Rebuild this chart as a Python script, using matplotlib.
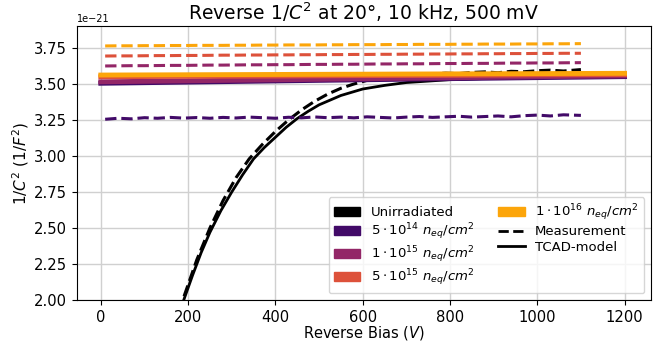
import numpy as np
import matplotlib.pyplot as plt
from matplotlib.patches import Patch
from matplotlib.lines import Line2D

# measured voltages (V)
v_meas = [10, 40, 70, 100, 130, 160, 190, 220, 250, 280, 310, 340, 370, 400,
          430, 460, 490, 520, 550, 580, 610, 640, 670, 700, 730, 760, 790,
          820, 850, 880, 910, 940, 970, 1000, 1030, 1060, 1100]

# 1/C^2 values in units of 1e-21 F^-2
meas_unirr = [0.20, 0.55, 0.90, 1.20, 1.50, 1.77, 2.02, 2.28, 2.50, 2.69,
              2.85, 2.98, 3.08, 3.17, 3.25, 3.32, 3.38, 3.43, 3.47, 3.50,
              3.525, 3.54, 3.552, 3.56, 3.566, 3.57, 3.575, 3.572, 3.58,
              3.584, 3.578, 3.588, 3.585, 3.592, 3.596, 3.59, 3.60]
meas_5e14 = [3.255, 3.262, 3.258, 3.266, 3.262, 3.268, 3.263, 3.267, 3.262,
             3.268, 3.264, 3.270, 3.266, 3.262, 3.269, 3.265, 3.271, 3.266,
             3.270, 3.265, 3.272, 3.268, 3.264, 3.270, 3.274, 3.268, 3.272,
             3.276, 3.270, 3.274, 3.278, 3.272, 3.280, 3.284, 3.278, 3.286,
             3.282]
meas_1e15 = [3.625, 3.626, 3.627, 3.627, 3.628, 3.629, 3.629, 3.630, 3.631,
             3.631, 3.632, 3.633, 3.633, 3.634, 3.634, 3.635, 3.636, 3.636,
             3.637, 3.637, 3.638, 3.639, 3.639, 3.640, 3.640, 3.641, 3.642,
             3.642, 3.643, 3.643, 3.644, 3.645, 3.645, 3.646, 3.646, 3.647,
             3.648]
meas_5e15 = [3.694, 3.695, 3.695, 3.696, 3.697, 3.697, 3.698, 3.698, 3.699,
             3.700, 3.700, 3.701, 3.701, 3.702, 3.702, 3.703, 3.703, 3.704,
             3.704, 3.705, 3.705, 3.706, 3.706, 3.707, 3.707, 3.708, 3.708,
             3.709, 3.709, 3.710, 3.710, 3.711, 3.711, 3.712, 3.712, 3.713,
             3.713]
meas_1e16 = [3.764, 3.765, 3.765, 3.766, 3.766, 3.767, 3.767, 3.768, 3.768,
             3.768, 3.769, 3.769, 3.770, 3.770, 3.771, 3.771, 3.771, 3.772,
             3.772, 3.773, 3.773, 3.773, 3.774, 3.774, 3.775, 3.775, 3.775,
             3.776, 3.776, 3.777, 3.777, 3.777, 3.778, 3.778, 3.779, 3.779,
             3.780]

# TCAD simulation
v_tcad_unirr = [150, 170, 190, 210, 230, 250, 275, 300, 325, 350, 375, 400,
                425, 450, 475, 500, 550, 600, 650, 700, 800, 900, 1000, 1100,
                1200]
tcad_unirr = [1.66, 1.84, 2.00, 2.17, 2.33, 2.47, 2.62, 2.75, 2.87, 2.98,
              3.06, 3.13, 3.20, 3.26, 3.31, 3.355, 3.42, 3.465, 3.49, 3.51,
              3.53, 3.54, 3.545, 3.55, 3.555]
v_tcad = [0, 200, 400, 600, 800, 1000, 1200]
tcad_5e14 = [3.505, 3.513, 3.521, 3.529, 3.537, 3.544, 3.551]
tcad_1e15 = [3.515, 3.522, 3.529, 3.536, 3.543, 3.550, 3.556]
tcad_5e15 = [3.550, 3.553, 3.555, 3.558, 3.560, 3.563, 3.565]
tcad_1e16 = [3.562, 3.564, 3.566, 3.568, 3.570, 3.572, 3.574]

labels = ["Unirradiated",
          r"$5\cdot10^{14}\ n_{eq}/cm^2$",
          r"$1\cdot10^{15}\ n_{eq}/cm^2$",
          r"$5\cdot10^{15}\ n_{eq}/cm^2$",
          r"$1\cdot10^{16}\ n_{eq}/cm^2$"]

colors = ["black"] + list(plt.cm.inferno(np.linspace(0.2, 0.8, 4)))

meas = [meas_unirr, meas_5e14, meas_1e15, meas_5e15, meas_1e16]
tcad_x = [v_tcad_unirr, v_tcad, v_tcad, v_tcad, v_tcad]
tcad = [tcad_unirr, tcad_5e14, tcad_1e15, tcad_5e15, tcad_1e16]

fig = plt.figure(figsize=(6.62, 3.41), dpi=100)
ax = fig.add_axes([0.116, 0.12, 0.867, 0.804])

for i in range(5):
    ax.plot(v_meas, np.array(meas[i]) * 1e-21, "--", color=colors[i], lw=2.2)
    lw = 2.0 if i == 0 else 3.5
    ax.plot(tcad_x[i], np.array(tcad[i]) * 1e-21, "-", color=colors[i], lw=lw)

ax.set_xlim(-55, 1260)
ax.set_ylim(2.0e-21, 3.903e-21)
ax.set_yticks(np.arange(2.0, 3.76, 0.25) * 1e-21)
ax.tick_params(labelsize=10.6)
ax.yaxis.get_offset_text().set_fontsize(7)
ax.grid(color="#d0d0d0", lw=1)
ax.set_axisbelow(True)

ax.set_title(r"Reverse $1/C^2$ at 20°, 10 kHz, 500 mV", fontsize=13.5, pad=4)
ax.set_xlabel(r"Reverse Bias ($V$)", fontsize=10.5, labelpad=-0.5)
ax.set_ylabel(r"$1/C^2$ $(1/F^2)$", fontsize=11, labelpad=2)

handles = [Patch(color=c, label=l) for c, l in zip(colors, labels)]
handles.append(Line2D([], [], color="black", ls="--", lw=2, label="Measurement"))
handles.append(Line2D([], [], color="black", ls="-", lw=2, label="TCAD-model"))
ax.legend(handles=handles, ncol=2, loc="lower right", fontsize=9.5,
          labelspacing=0.18, columnspacing=1.8, handlelength=2.0,
          borderaxespad=0.5)

plt.savefig("out.png", dpi=100)
